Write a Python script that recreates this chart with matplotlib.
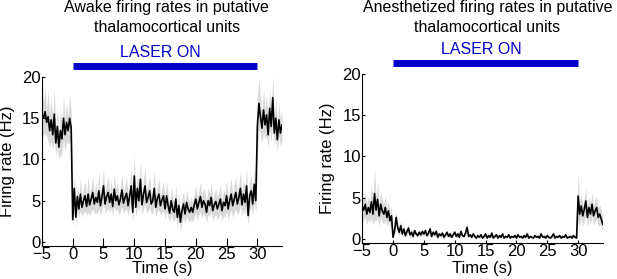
import numpy as np
from matplotlib import pyplot as plt

plt.rcParams['font.family'] = ['Liberation Sans', 'DejaVu Sans']

# time bins (s), 0.25 s apart, -5 .. 34
t = np.arange(157) * 0.25 - 5

awake_mean = [
    # -5 .. 0
    15.5, 15.0, 15.8, 14.5, 15.2, 13.5, 14.8, 13.0, 15.5, 12.0,
    14.0, 11.5, 13.5, 12.5, 15.0, 13.0, 14.5, 13.5, 15.0, 13.8,
    # 0 .. 30
    2.7, 6.5, 3.0, 5.5, 4.0, 5.8, 4.2, 5.0, 5.6, 4.3, 5.8, 4.5, 5.2, 6.0, 4.6, 5.4, 4.8, 6.2, 4.4, 5.5,
    6.8, 4.6, 5.5, 6.0, 4.8, 5.8, 4.3, 6.4, 5.0, 5.6, 4.5, 5.2, 6.3, 4.7, 5.4, 5.9, 4.4, 5.6, 6.8, 3.6,
    8.0, 4.2, 6.5, 5.0, 7.6, 4.5, 5.8, 6.8, 4.8, 5.4, 6.2, 4.6, 5.0, 6.5, 4.2, 5.3, 5.8, 4.4, 5.1, 5.6,
    4.0, 5.6, 4.4, 3.5, 5.0, 4.0, 3.6, 5.2, 3.0, 4.4, 2.4, 3.8, 4.6, 3.4, 4.8, 4.0, 3.6, 4.2, 3.6, 4.5,
    5.2, 4.0, 4.8, 5.5, 4.2, 5.0, 4.6, 3.6, 5.0, 4.4, 5.4, 3.8, 4.5, 4.9, 4.0, 4.6, 5.2, 3.8, 4.8, 4.4,
    5.6, 4.0, 5.0, 5.8, 4.4, 5.2, 6.0, 4.6, 5.4, 6.5, 4.5, 5.8, 4.8, 6.8, 3.2, 5.6, 6.2, 4.6, 7.0, 5.0,
    # 30 .. 34
    14.0, 16.8, 15.2, 13.8, 16.0, 14.2, 15.4, 13.0, 16.2, 14.0, 17.5, 13.2, 15.0, 12.4, 14.8, 13.2, 14.2,
]
awake_sem = [
    3.5, 2.0, 2.8, 1.6, 3.0, 2.0, 2.6, 1.8, 3.2, 1.6,
    2.4, 1.5, 3.0, 1.8, 2.6, 2.0, 2.4, 1.6, 2.8, 2.0,
    1.0, 1.8, 1.2, 1.6, 1.0, 2.0, 1.2, 1.5, 1.8, 1.1, 2.2, 1.2, 1.6, 2.0, 1.2, 1.8, 1.3, 2.2, 1.2, 1.6,
    2.0, 1.2, 1.6, 1.9, 1.2, 1.7, 1.1, 2.0, 1.3, 1.6, 1.2, 1.5, 2.0, 1.2, 1.6, 1.9, 1.2, 1.7, 2.2, 1.3,
    2.6, 1.3, 2.0, 1.4, 2.4, 1.2, 1.8, 2.2, 1.3, 1.6, 2.0, 1.2, 1.5, 2.1, 1.2, 1.6, 1.9, 1.2, 1.5, 1.8,
    1.3, 1.8, 1.4, 1.2, 1.6, 1.3, 1.2, 1.7, 1.3, 1.5, 1.2, 1.4, 1.6, 1.2, 1.6, 1.3, 1.2, 1.4, 1.2, 1.5,
    1.7, 1.3, 1.5, 1.8, 1.3, 1.6, 1.4, 1.2, 1.6, 1.4, 1.7, 1.2, 1.4, 1.6, 1.3, 1.5, 1.7, 1.2, 1.6, 1.4,
    1.8, 1.3, 1.6, 1.9, 1.4, 1.7, 2.0, 1.4, 1.7, 2.1, 1.4, 1.8, 1.5, 2.2, 1.3, 1.8, 2.0, 1.4, 2.2, 1.6,
    3.5, 3.0, 2.2, 1.8, 2.6, 1.8, 2.4, 1.6, 2.6, 1.8, 2.8, 1.6, 2.2, 1.5, 2.0, 1.6, 1.8,
]

anest_mean = [
    4.0, 3.5, 4.2, 3.0, 3.8, 3.2, 4.5, 3.0, 5.5, 3.5,
    4.8, 2.8, 4.2, 3.4, 3.0, 3.8, 2.6, 3.4, 2.2, 2.8,
    0.2, 1.0, 2.6, 1.4, 0.8, 1.6, 0.6, 1.2, 0.4, 0.9, 1.3, 0.5, 0.8, 0.3, 1.0, 0.6, 0.4, 0.8, 0.5, 0.9,
    0.6, 1.0, 0.4, 0.7, 1.2, 0.3, 0.8, 0.5, 0.9, 0.2, 0.6, 0.4, 0.7, 0.2, 0.5, 0.8, 0.3, 0.6, 0.2, 0.5,
    0.8, 0.3, 0.6, 0.2, 0.9, 0.4, 0.3, 0.7, 1.4, 0.3, 0.5, 0.2, 0.6, 0.3, 0.1, 0.4, 0.2, 0.5, 0.1, 0.3,
    0.6, 0.1, 0.4, 0.2, 0.7, 0.1, 0.3, 0.5, 0.1, 0.4, 0.2, 0.6, 0.1, 0.3, 0.2, 0.5, 0.1, 0.3, 0.2, 0.4,
    0.1, 0.5, 0.2, 0.3, 0.1, 0.4, 0.2, 0.6, 0.1, 0.3, 0.2, 0.1, 0.4, 0.2, 0.3, 0.1, 0.6, 0.2, 0.3, 0.1,
    0.4, 0.2, 0.1, 0.3, 0.6, 0.1, 0.3, 0.2, 0.4, 0.1, 0.3, 0.2, 0.5, 0.1, 0.2, 0.3, 0.1, 0.4, 0.2, 0.1,
    5.2, 3.0, 4.0, 2.8, 3.6, 4.6, 2.6, 3.8, 3.0, 4.2, 2.8, 3.4, 3.8, 2.6, 3.0, 2.4, 1.8,
]
anest_sem = [
    2.0, 1.2, 1.6, 1.2, 1.4, 1.2, 2.0, 1.2, 3.2, 1.4,
    2.2, 1.2, 1.6, 1.3, 1.2, 1.5, 1.1, 1.3, 1.0, 1.2,
    0.2, 0.5, 0.9, 0.6, 0.4, 0.6, 0.3, 0.5, 0.3, 0.4, 0.5, 0.3, 0.4, 0.2, 0.4, 0.3, 0.2, 0.4, 0.3, 0.4,
    0.3, 0.4, 0.2, 0.3, 0.5, 0.2, 0.3, 0.2, 0.4, 0.2, 0.3, 0.2, 0.3, 0.2, 0.2, 0.3, 0.2, 0.3, 0.2, 0.2,
    0.3, 0.2, 0.3, 0.2, 0.4, 0.2, 0.2, 0.3, 0.5, 0.2, 0.2, 0.2, 0.3, 0.2, 0.1, 0.2, 0.1, 0.2, 0.1, 0.2,
    0.3, 0.1, 0.2, 0.1, 0.3, 0.1, 0.2, 0.2, 0.1, 0.2, 0.1, 0.3, 0.1, 0.2, 0.1, 0.2, 0.1, 0.2, 0.1, 0.2,
    0.1, 0.2, 0.1, 0.2, 0.1, 0.2, 0.1, 0.3, 0.1, 0.2, 0.1, 0.1, 0.2, 0.1, 0.2, 0.1, 0.3, 0.1, 0.2, 0.1,
    0.2, 0.1, 0.1, 0.2, 0.3, 0.1, 0.2, 0.1, 0.2, 0.1, 0.2, 0.1, 0.2, 0.1, 0.1, 0.2, 0.1, 0.2, 0.1, 0.1,
    3.0, 1.6, 1.4, 1.2, 1.4, 1.6, 1.1, 1.4, 1.2, 1.5, 1.1, 1.3, 1.4, 1.1, 1.2, 1.0, 0.8,
]

titles = ["Awake firing rates in putative\nthalamocortical units",
          "Anesthetized firing rates in putative\nthalamocortical units"]
xticks = [-5, 0, 5, 10, 15, 20, 25, 30]
yticks = [0, 5, 10, 15, 20]
laser = (0, 30)

fig = plt.figure(figsize=(6.17, 2.79), dpi=100)
ax1 = fig.add_axes([0.068, 0.118, 0.389, 0.606])
ax2 = fig.add_axes([0.587, 0.129, 0.390, 0.606])

panels = [(ax1, awake_mean, awake_sem, titles[0], 6, -0.135, 1.35),
          (ax2, anest_mean, anest_sem, titles[1], 2, -0.148, 1.333)]

for ax, m, s, title, xtick_len, xlab_y, title_y in panels:
    m = np.array(m)
    s = np.array(s)
    ax.fill_between(t, m - s, m + s, color='#d9d9d9', linewidth=0)
    ax.plot(t, m, color='black', linewidth=1.2)
    ax.set_xlim(-5, 34)
    ax.set_ylim(-0.5, 20)
    ax.set_xticks(xticks)
    ax.set_yticks(yticks)
    ax.spines['top'].set_visible(False)
    ax.spines['right'].set_visible(False)
    ax.tick_params(direction='in', labelsize=12, pad=1)
    ax.tick_params(axis='x', length=xtick_len)
    ax.tick_params(axis='y', length=2.5)
    ax.set_xlabel("Time (s)", fontsize=12, va='center')
    ax.set_ylabel("Firing rate (Hz)", fontsize=12)
    ax.xaxis.set_label_coords(0.5, xlab_y)
    ax.yaxis.set_label_coords(-0.112, 0.5)
    ax.plot(laser, [21.3, 21.3], color='#0000c8', linewidth=5,
            solid_capstyle='butt', clip_on=False)
    ax.text(14.3, 23.0, "LASER ON", color='#0000c8', fontsize=11.5,
            ha='center', va='center')
    ax.text(0.52, title_y, title, transform=ax.transAxes, fontsize=11.5,
            ha='center', va='center', linespacing=1.4)

fig.savefig('out.png', dpi=100)
